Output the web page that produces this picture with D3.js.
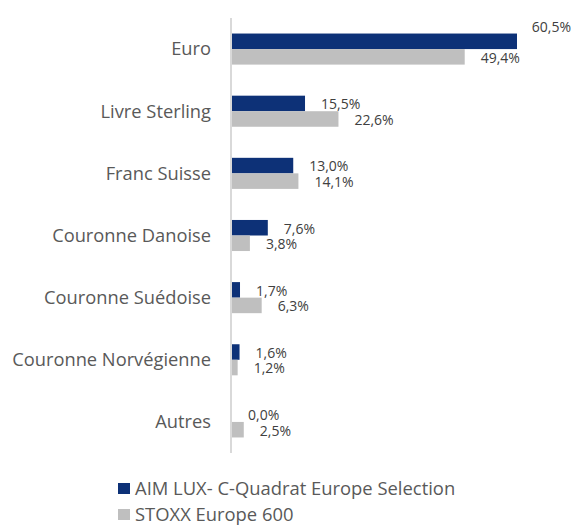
<!DOCTYPE html>
<html>
<head>
<meta charset="utf-8">
<script src="https://cdn.jsdelivr.net/npm/d3@7"></script>
<style>
  body { margin: 0; background: #fff; }
  svg { display: block; font-family: 'Open Sans', sans-serif; }
  .cat { font-size: 18.3px; fill: #595959; }
  .val { font-size: 14px; fill: #404040; }
  .legend text { font-size: 18.4px; fill: #595959; }
</style>
</head>
<body>
<svg width="572" height="529"></svg>
<script>
const categories = ['Euro', 'Livre Sterling', 'Franc Suisse', 'Couronne Danoise',
  'Couronne Suédoise', 'Couronne Norvégienne', 'Autres'];
const seriesNames = ['AIM LUX- C-Quadrat Europe Selection', 'STOXX Europe 600'];
const fundValues  = [60.5, 15.5, 13.0, 7.6, 1.7, 1.6, 0.0];
const indexValues = [49.4, 22.6, 14.1, 3.8, 6.3, 1.2, 2.5];
const colors = ['#0d3177', '#bfbfbf'];

const svg = d3.select('svg');
const width  = +svg.attr('width');
const height = +svg.attr('height');

const margin = { top: 18, left: 231, right: 0, bottom: 76 };
const innerWidth  = width - margin.left - margin.right;
const innerHeight = height - margin.top - margin.bottom;

const data = categories.map((c, i) => ({
  category: c,
  values: [fundValues[i], indexValues[i]]
}));

const g = svg.append('g')
  .attr('transform', `translate(${margin.left},${margin.top})`);

const xScale = d3.scaleLinear()
  .domain([0, 60.5])
  .range([0, 285]);

const yScale = d3.scaleBand()
  .domain(categories)
  .range([0, innerHeight])
  .paddingInner(0.5)
  .paddingOuter(0.25);

const subScale = d3.scaleBand()
  .domain([0, 1])
  .range([0, yScale.bandwidth()]);

// category labels
g.append('g').selectAll('text')
  .data(categories).enter()
  .append('text')
    .attr('class', 'cat')
    .attr('x', -20)
    .attr('y', d => yScale(d) + yScale.bandwidth() / 2)
    .attr('dy', '0.35em')
    .attr('text-anchor', 'end')
    .text(d => d);

// bars
const groups = g.selectAll('.group')
  .data(data).enter()
  .append('g')
    .attr('class', 'group')
    .attr('transform', d => `translate(0,${yScale(d.category)})`);

groups.selectAll('rect')
  .data(d => d.values).enter()
  .append('rect')
    .attr('x', 1)
    .attr('y', (d, i) => subScale(i))
    .attr('width', d => xScale(d))
    .attr('height', subScale.bandwidth())
    .attr('fill', (d, i) => colors[i]);

const fmt = v => d3.format('.1f')(v).replace('.', ',') + '%';

groups.selectAll('text')
  .data(d => d.values).enter()
  .append('text')
    .attr('class', 'val')
    .attr('x', d => xScale(d) + 17)
    .attr('y', (d, i) => subScale(i) + subScale.bandwidth() / 2 + 1)
    .attr('dy', '0.35em')
    .text(fmt)
    .each(function(d, i) {
      // labels running off the right edge get lifted above the bar
      const w = this.getComputedTextLength();
      if (margin.left + xScale(d) + 17 + w > width - 2) {
        d3.select(this)
          .attr('x', width - margin.left - w - 1)
          .attr('y', subScale(i) - 6);
      }
    });

// axis line
g.append('line')
  .attr('x1', 0).attr('x2', 0)
  .attr('y1', 0).attr('y2', innerHeight)
  .attr('stroke', '#d9d9d9')
  .attr('stroke-width', 2);

// legend
const legend = svg.append('g')
  .attr('class', 'legend')
  .attr('transform', 'translate(118,483)');

const items = legend.selectAll('g')
  .data(seriesNames).enter()
  .append('g')
    .attr('transform', (d, i) => `translate(0,${i * 26})`);

items.append('rect')
  .attr('width', 12).attr('height', 11)
  .attr('fill', (d, i) => colors[i]);

items.append('text')
  .attr('x', 17)
  .attr('y', 5.5)
  .attr('dy', '0.35em')
  .text(d => d);
</script>
</body>
</html>
